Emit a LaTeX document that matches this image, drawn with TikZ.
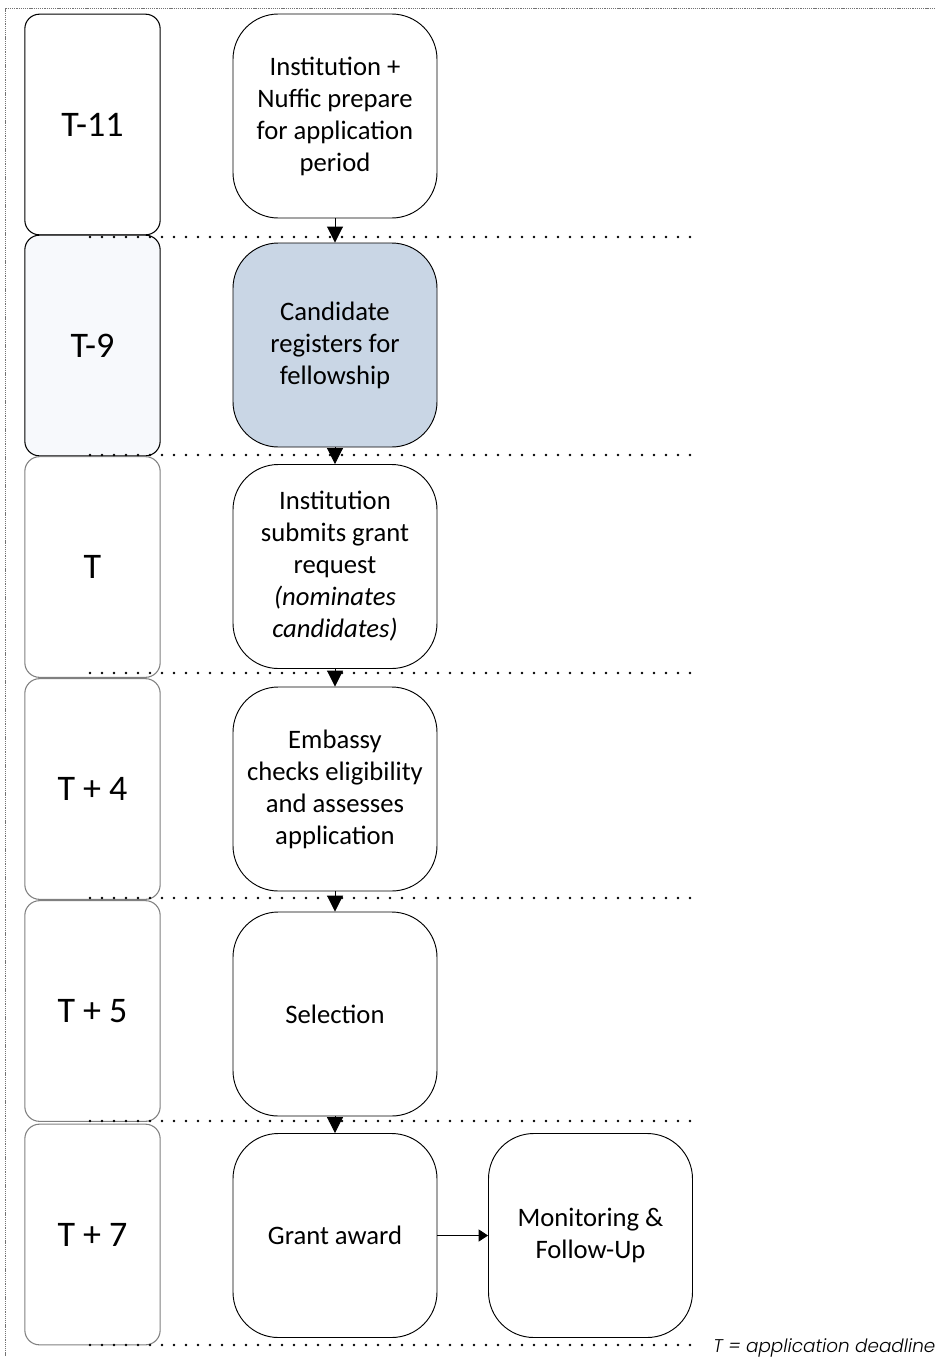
\documentclass[tikz,border=0pt]{standalone}
\usepackage{fontspec}
\setmainfont{Carlito}
\newfontfamily\notefont{Poppins}[UprightFont=* Light, ItalicFont=* Light Italic]
\usetikzlibrary{arrows.meta}

\definecolor{stagefill}{HTML}{C9D6E5}
\definecolor{periodfill}{HTML}{F7F9FC}

\begin{document}
\begin{tikzpicture}[x=0.75pt, y=-0.75pt,
    every node/.style={inner sep=0pt},
    period/.style={draw=black, line width=0.8pt, rounded corners=11pt,
        minimum width=101.5pt, minimum height=165.5pt,
        font=\fontsize{27}{32}\selectfont},
    softperiod/.style={period, draw=black!50},
    stage/.style={draw=black, line width=0.7pt, rounded corners=34pt,
        minimum width=153pt, minimum height=153pt, align=center,
        font=\fontsize{20}{24}\selectfont},
    sep/.style={line width=2.1pt, line cap=round, dash pattern=on 0pt off 9pt},
    flow/.style={-{Triangle[width=12pt,length=12pt]}, line width=0.7pt},
    ]
\useasboundingbox (0,0) rectangle (935,1357);

% outer frame
\draw[black!55, line width=0.6pt, dash pattern=on 0.8pt off 0.6pt] (935,8) -- (5,8) -- (5,1357);

% time column
\node[period] (t11) at (92.5,124.5) {T-11};
\node[period, fill=periodfill] (t9) at (92.5,345.5) {T-9};
\node[softperiod] (t0) at (92.5,567) {T};
\node[softperiod] (t4) at (92.5,789) {T + 4};
\node[softperiod] (t5) at (92.5,1011) {T + 5};
\node[softperiod] (t7) at (92.5,1234.5) {T + 7};

% steps
\node[stage] (prepare) at (335,116) {Institution +\\Nuffic prepare\\for application\\period};
\node[stage, fill=stagefill] (register) at (335,345) {Candidate\\registers for\\fellowship};
\node[stage] (submit) at (335,566.5) {Institution\\submits grant\\request\\\textit{(nominates}\\\textit{candidates)}};
\node[stage] (check) at (335,789) {Embassy\\checks eligibility\\and assesses\\application};
\node[stage] (select) at (335,1014) {Selection};
\node[stage] (award) at (335,1235.5) {Grant award};
\node[stage] (monitor) at (590.5,1235.5) {Monitoring \&\\Follow-Up};

% period separators
\draw[sep] (90,237) -- (690,237);
\draw[sep] (90,455) -- (690,455);
\draw[sep] (90,673) -- (700,673);
\draw[sep] (90,898) -- (700,898);
\draw[sep] (90,1121) -- (700,1121);
\draw[sep] (90,1345) -- (700,1345);
\node[anchor=base west, font=\notefont\itshape\fontsize{13.8}{16}\selectfont] (note) at (713,1352) {T = application deadline};

% flow
\draw[flow] (prepare) -- (register);
\draw[flow] (register) -- (submit);
\draw[flow] (submit) -- (check);
\draw[flow] (check) -- (select);
\draw[flow] (select) -- (award);
\draw[-{Triangle[width=9pt,length=7pt]}, line width=0.7pt] (award) -- (monitor);
\end{tikzpicture}
\end{document}
